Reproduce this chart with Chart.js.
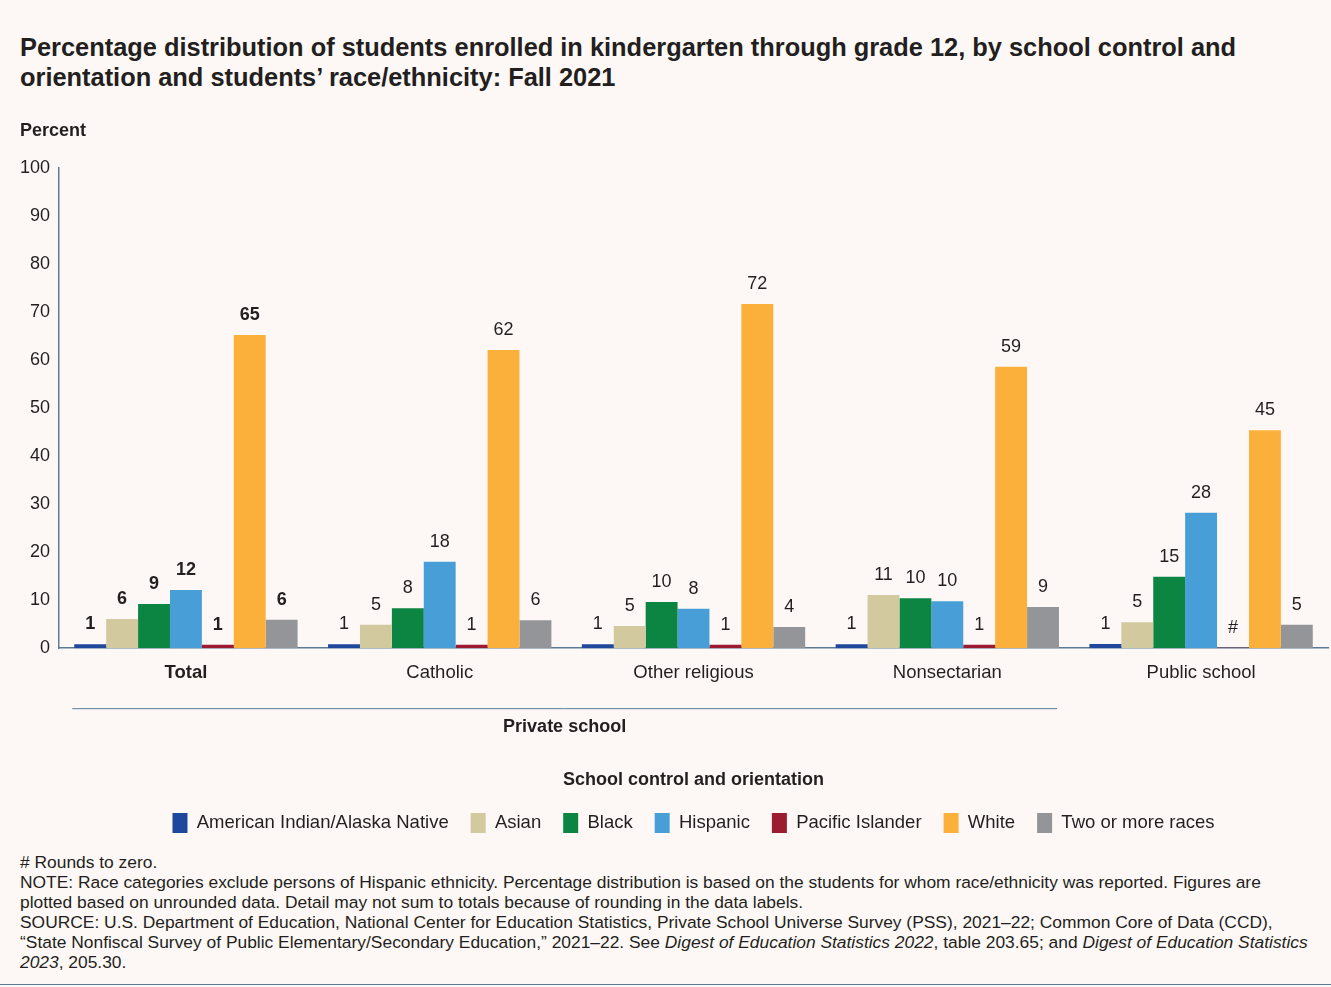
<!DOCTYPE html>
<html>
<head>
<meta charset="utf-8">
<script src="https://cdn.jsdelivr.net/npm/chart.js@4/dist/chart.umd.min.js"></script>
<style>
    body { margin: 0; background: #fdf8f6; font-family: "Liberation Sans", Arial, sans-serif; color: #231f20; }
    #page { position: relative; width: 1331px; height: 987px; overflow: hidden; }
    #title { position: absolute; left: 20px; top: 32px; font-size: 25.4px; font-weight: bold; line-height: 30px; white-space: nowrap; }
    #chartBox { position: absolute; left: 0; top: 100px; width: 1331px; height: 745px; }
    #notes { position: absolute; left: 20px; top: 852px; font-size: 17.4px; line-height: 20px; white-space: nowrap; }
    #rule { position: absolute; left: 0; top: 984px; width: 1331px; height: 1px; background: #5b7a95; }
</style>
</head>
<body>
<div id="page">
    <div id="title">Percentage distribution of students enrolled in kindergarten through grade 12, by school control and<br>orientation and students’ race/ethnicity: Fall 2021</div>
    <div id="chartBox"><canvas id="raceChart" width="1331" height="745"></canvas></div>
    <div id="notes">
        # Rounds to zero.<br>
        NOTE: Race categories exclude persons of Hispanic ethnicity. Percentage distribution is based on the students for whom race/ethnicity was reported. Figures are<br>
        plotted based on unrounded data. Detail may not sum to totals because of rounding in the data labels.<br>
        SOURCE: U.S. Department of Education, National Center for Education Statistics, Private School Universe Survey (PSS), 2021–22; Common Core of Data (CCD),<br>
        “State Nonfiscal Survey of Public Elementary/Secondary Education,” 2021–22. See <i>Digest of Education Statistics 2022</i>, table 203.65; and <i>Digest of Education Statistics<br>
        2023</i>, 205.30.
    </div>
    <div id="rule"></div>
</div>
<script>
// Categories (school control and orientation)
const categories = ["Total", "Catholic", "Other religious", "Nonsectarian", "Public school"];
const privateGroups = 4; // first four categories are private schools

// Percent of students by race/ethnicity (unrounded)
const americanIndian = [0.8, 0.8, 0.8, 0.8, 0.9];
const asian = [6.1, 4.9, 4.6, 11.1, 5.4];
const black = [9.2, 8.3, 9.6, 10.4, 14.9];
const hispanic = [12.1, 18.0, 8.2, 9.8, 28.2];
const pacificIslander = [0.7, 0.7, 0.7, 0.7, 0.1];
const white = [65.2, 62.1, 71.7, 58.6, 45.4];
const twoOrMore = [5.9, 5.8, 4.4, 8.6, 4.9];

const yTicks = [0, 10, 20, 30, 40, 50, 60, 70, 80, 90, 100];

const FONT = "'Liberation Sans', Arial, sans-serif";
const TEXT = "#231f20";
const AXIS = "#5b7a95";

const series = [
    { label: "American Indian/Alaska Native", data: americanIndian, color: "#1f479b" },
    { label: "Asian", data: asian, color: "#d2c99f" },
    { label: "Black", data: black, color: "#0d8542" },
    { label: "Hispanic", data: hispanic, color: "#489fd8" },
    { label: "Pacific Islander", data: pacificIslander, color: "#9b1b30" },
    { label: "White", data: white, color: "#fbb03b" },
    { label: "Two or more races", data: twoOrMore, color: "#939598" },
];

// Value labels above bars, "#" when it rounds to zero
const barLabels = {
    id: "barLabels",
    afterDatasetsDraw(chart) {
        const ctx = chart.ctx;
        ctx.save();
        ctx.fillStyle = TEXT;
        ctx.textAlign = "center";
        ctx.textBaseline = "bottom";
        chart.data.datasets.forEach((ds, i) => {
            const meta = chart.getDatasetMeta(i);
            meta.data.forEach((bar, j) => {
                const rounded = Math.round(ds.data[j]);
                ctx.font = (j === 0 ? "bold " : "") + "18px " + FONT;
                ctx.fillText(rounded === 0 ? "#" : String(rounded), bar.x, bar.y - 11);
            });
        });
        ctx.restore();
    },
};

// Bracket under the private school groups, plus the y axis title
const privateBracket = {
    id: "privateBracket",
    afterLayout(chart) {
        // centre the legend on the plot area rather than the canvas
        const legend = chart.legend;
        const shift = (chart.chartArea.left + chart.chartArea.right) / 2 - (legend.left + legend.right) / 2;
        legend.left += shift;
        legend.right += shift;
    },
    afterDraw(chart) {
        const x = chart.scales.x;
        const ctx = chart.ctx;
        const half = (x.getPixelForValue(1) - x.getPixelForValue(0)) / 2 * 0.88;
        const left = x.getPixelForValue(0) - half - 2;
        const right = x.getPixelForValue(privateGroups - 1) + half - 2;
        const y = x.top + 60;
        ctx.save();
        ctx.strokeStyle = AXIS;
        ctx.lineWidth = 1;
        ctx.beginPath();
        ctx.moveTo(left, y + 0.5);
        ctx.lineTo(right, y + 0.5);
        ctx.stroke();
        ctx.fillStyle = TEXT;
        ctx.font = "bold 18px " + FONT;
        ctx.textAlign = "center";
        ctx.textBaseline = "middle";
        ctx.fillText("Private school", (left + right) / 2, y + 19);
        ctx.textAlign = "left";
        ctx.fillText("Percent", 20, 31);
        ctx.restore();
    },
};

const ctx = document.getElementById("raceChart").getContext("2d");
const raceChart = new Chart(ctx, {
    type: "bar",
    data: {
        labels: categories,
        datasets: series.map(s => ({
            label: s.label,
            data: s.data,
            backgroundColor: s.color,
            borderWidth: 0,
            categoryPercentage: 0.88,
            barPercentage: 1.0,
        })),
    },
    options: {
        responsive: false,
        animation: false,
        layout: { padding: { left: 19, right: 3, top: 68, bottom: 2 } },
        plugins: {
            legend: {
                position: "bottom",
                labels: {
                    boxWidth: 15,
                    boxHeight: 20,
                    padding: 22,
                    color: TEXT,
                    font: { family: FONT, size: 18.5 },
                },
            },
            tooltip: { enabled: false },
        },
        scales: {
            x: {
                grid: { display: false },
                border: { display: true, color: AXIS, width: 1.5 },
                ticks: {
                    color: TEXT,
                    padding: 6,
                    maxRotation: 0,
                    font: ctx => ({ family: FONT, size: 18.5, weight: ctx.index === 0 ? "bold" : "normal" }),
                },
                title: {
                    display: true,
                    text: "School control and orientation",
                    color: TEXT,
                    font: { family: FONT, size: 18, weight: "bold" },
                    padding: { top: 79, bottom: 0 },
                },
            },
            y: {
                min: 0,
                max: 100,
                afterBuildTicks: axis => { axis.ticks = yTicks.map(v => ({ value: v })); },
                grid: { display: false },
                border: { display: true, color: AXIS, width: 1.5 },
                ticks: {
                    color: TEXT,
                    padding: 1,
                    font: { family: FONT, size: 18 },
                },
            },
        },
    },
    plugins: [barLabels, privateBracket],
});
</script>
</body>
</html>
